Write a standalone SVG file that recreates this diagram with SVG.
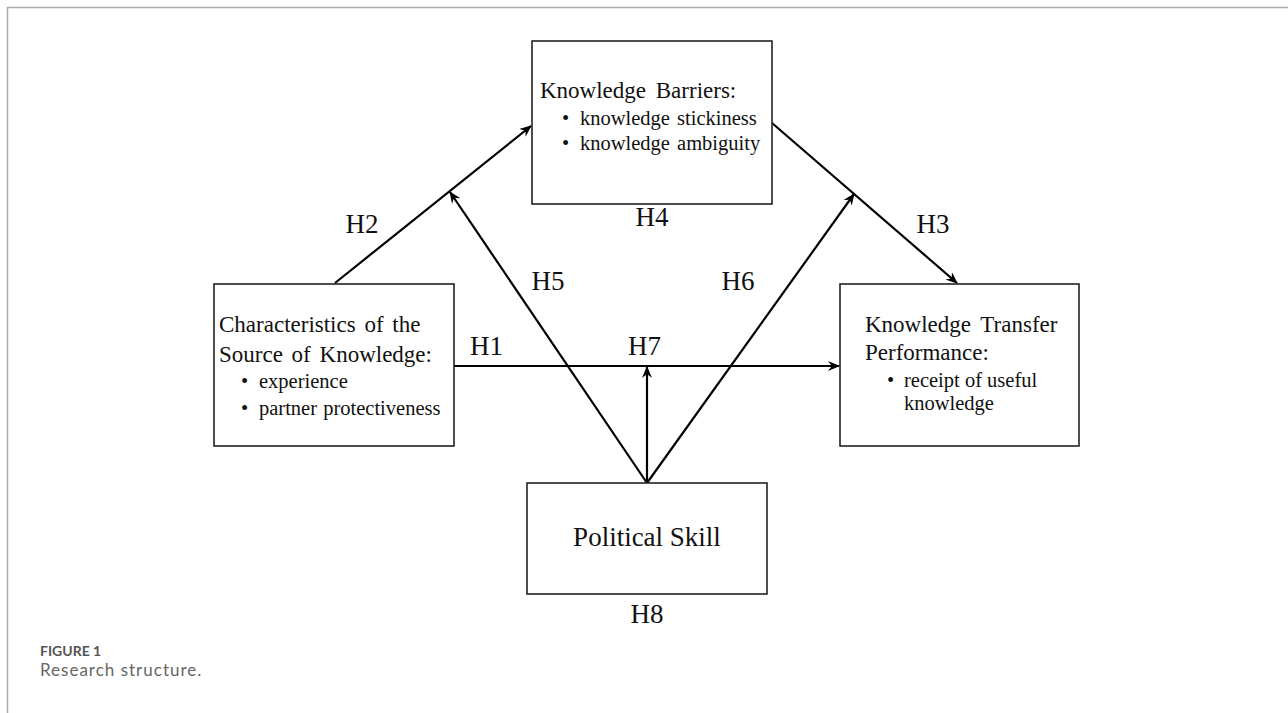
<svg xmlns="http://www.w3.org/2000/svg" width="1288" height="713" viewBox="0 0 1288 713">
<defs>
<style>
.box{fill:#fff;stroke:#222;stroke-width:1.6}
.t{font-family:"Liberation Serif","Times New Roman",serif;font-size:23px;fill:#111}
.b{font-family:"Liberation Serif","Times New Roman",serif;font-size:20.5px;fill:#111}
.h{font-family:"Liberation Serif","Times New Roman",serif;font-size:27px;fill:#111}
.c{stroke:#000;stroke-width:2.2;fill:none}
.cap1{font-family:Lato,"Open Sans",sans-serif;font-size:14px;font-weight:bold;fill:#555}
.cap2{font-family:Lato,"Open Sans",sans-serif;font-size:17px;letter-spacing:1px;fill:#666}
</style>
<marker id="arr" viewBox="0 0 12 10" refX="11" refY="5" markerWidth="12" markerHeight="10" markerUnits="userSpaceOnUse" orient="auto">
<path d="M0,0 L12,5 L0,10 L4,5 Z" fill="#000"/>
</marker>
</defs>
<rect width="1288" height="713" fill="#fff"/>
<path d="M7.5,713 V7.5 H1288" fill="none" stroke="#aaa" stroke-width="1.5"/>

<g id="connectors">
<line class="c" x1="335" y1="283" x2="531" y2="126" marker-end="url(#arr)"/>
<line class="c" x1="772" y1="123" x2="957" y2="283" marker-end="url(#arr)"/>
<line class="c" x1="454" y1="366" x2="839" y2="366" marker-end="url(#arr)"/>
<line class="c" x1="647" y1="483" x2="450" y2="192" marker-end="url(#arr)"/>
<line class="c" x1="647" y1="483" x2="854" y2="194" marker-end="url(#arr)"/>
<line class="c" x1="647" y1="483" x2="647" y2="367" marker-end="url(#arr)"/>
</g>

<g id="barriers">
<rect class="box" x="532" y="41" width="240" height="163"/>
<text class="t" x="540" y="98" word-spacing="4">Knowledge Barriers:</text>
<text class="b" x="562" y="125">•</text>
<text class="b" x="580" y="125" word-spacing="2">knowledge stickiness</text>
<text class="b" x="562" y="150">•</text>
<text class="b" x="580" y="150" word-spacing="2">knowledge ambiguity</text>
</g>

<g id="source">
<rect class="box" x="214" y="284" width="240" height="162"/>
<text class="t" x="219" y="332" word-spacing="3">Characteristics of the</text>
<text class="t" x="219" y="362" word-spacing="3">Source of Knowledge:</text>
<text class="b" x="241" y="388">•</text>
<text class="b" x="259" y="388">experience</text>
<text class="b" x="241" y="415">•</text>
<text class="b" x="259" y="415" word-spacing="1">partner protectiveness</text>
</g>

<g id="performance">
<rect class="box" x="840" y="284" width="239" height="162"/>
<text class="t" x="865" y="332" word-spacing="4">Knowledge Transfer</text>
<text class="t" x="865" y="360">Performance:</text>
<text class="b" x="887" y="387">•</text>
<text class="b" x="904" y="387">receipt of useful</text>
<text class="b" x="904" y="410">knowledge</text>
</g>

<g id="political">
<rect class="box" x="527" y="483" width="240" height="111"/>
<text class="h" x="647" y="546" text-anchor="middle">Political Skill</text>
</g>

<g id="labels">
<text class="h" x="362" y="233" text-anchor="middle">H2</text>
<text class="h" x="652" y="226" text-anchor="middle">H4</text>
<text class="h" x="933" y="233" text-anchor="middle">H3</text>
<text class="h" x="548" y="290" text-anchor="middle">H5</text>
<text class="h" x="738" y="290" text-anchor="middle">H6</text>
<text class="h" x="470" y="355">H1</text>
<text class="h" x="628" y="355">H7</text>
<text class="h" x="647" y="623" text-anchor="middle">H8</text>
</g>

<g id="caption">
<text class="cap1" x="40" y="656">FIGURE 1</text>
<text class="cap2" x="40" y="676">Research structure.</text>
</g>
</svg>
